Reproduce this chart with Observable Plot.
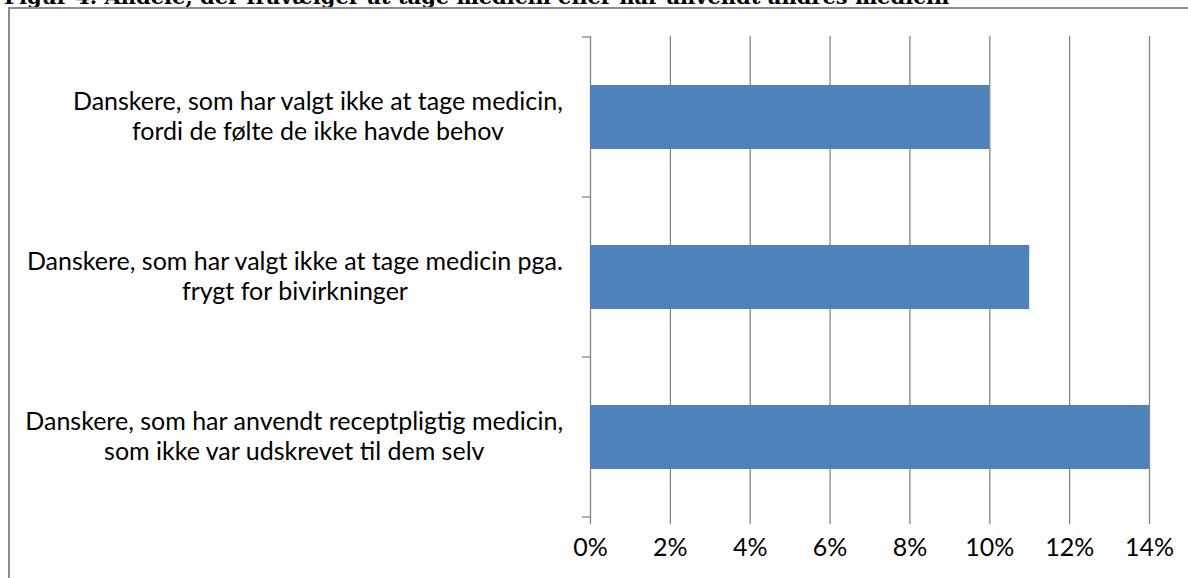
<!DOCTYPE html>
<html><head><meta charset="utf-8">
<script src="https://cdn.jsdelivr.net/npm/d3@7"></script>
<script src="https://cdn.jsdelivr.net/npm/@observablehq/plot@0.6"></script>
<style>
body{margin:0;background:#fff;overflow:hidden}
#wrap{position:relative;width:1188px;height:578px;overflow:hidden;background:#fff}
#title{position:absolute;left:4px;top:-14px;font:bold 21px "DejaVu Serif";line-height:21px;white-space:nowrap;color:#000}
#frame{position:absolute;left:8px;top:7px;width:1220px;height:620px;border-left:2px solid #8c8c8c;border-top:2px solid #8c8c8c}
#chart{position:absolute;left:0;top:0}
</style></head><body>
<div id="wrap">
  <div id="title">Figur 4. Andele, der fravælger at tage medicin eller har anvendt andres medicin</div>
  <div id="frame"></div>
  <div id="chart"></div>
</div>
<script>
// Data
const categories = ["behov", "bivirkninger", "andres"];
const labelLines = [
  ["Danskere, som har valgt ikke at tage medicin,", "fordi de følte de ikke havde behov"],
  ["Danskere, som har valgt ikke at tage medicin pga.", "frygt for bivirkninger"],
  ["Danskere, som har anvendt receptpligtig medicin,", "som ikke var udskrevet til dem selv"]
];
const values = [0.10, 0.11, 0.14];
const xTicks = [0, 0.02, 0.04, 0.06, 0.08, 0.10, 0.12, 0.14];

const FONT = "Lato";
const FS = 25;
const data = categories.map((c, i) => ({cat: c, value: values[i], label: labelLines[i].join("\n"), lines: labelLines[i]}));

const ctx = document.createElement("canvas").getContext("2d");
ctx.font = `${FS}px ${FONT}`;
const widthOf = lines => Math.max(...lines.map(l => ctx.measureText(l).width));

const gray = "#868686";

function boundaryTicks(index, scales, values, dims) {
  const y = scales.y;
  const bw = y.bandwidth ? y.bandwidth() : 0;
  const step = y.step ? y.step() : bw;
  const off = (step - bw) / 2;
  const ys = categories.map(c => y(c) - off);
  ys.push(y(categories[categories.length - 1]) + bw + off);
  const g = d3.create("svg:g");
  const x0 = scales.x(0);
  for (const yy of ys) {
    g.append("line").attr("x1", x0 - 8).attr("x2", x0).attr("y1", yy).attr("y2", yy)
      .attr("stroke", gray).attr("stroke-width", 1.3);
  }
  return g.node();
}

const labelMarks = data.map(d => Plot.text([d], {
  y: "cat", text: "label", frameAnchor: "left", textAnchor: "middle",
  dx: -(27 + widthOf(d.lines) / 2), dy: -2, lineHeight: 1.17, fontSize: FS, fill: "#000"
}));

const chart = Plot.plot({
  width: 1188, height: 578,
  marginLeft: 590, marginRight: 39, marginTop: 36, marginBottom: 61,
  style: {fontFamily: FONT, fontSize: FS + "px", color: "#000", background: "transparent", overflow: "visible"},
  x: {domain: [0, 0.14]},
  y: {domain: categories, paddingInner: 0.6, paddingOuter: 0.3},
  marks: [
    Plot.gridX(xTicks, {stroke: gray, strokeOpacity: 1, strokeWidth: 1.3}),
    Plot.barX(data, {x: "value", y: "cat", fill: "#4F81BD"}),
    Plot.ruleY([0], {frameAnchor: "bottom", x1: 0, x2: 0.14, stroke: gray, strokeWidth: 1.3}),
    Plot.axisX(xTicks, {tickSize: 7, tickPadding: 14, stroke: gray, strokeWidth: 1.3, fill: "#000",
      tickFormat: d => Math.round(d * 100) + "%", fontSize: FS, label: null}),
    Plot.axisY({ticks: [], label: null}),
    boundaryTicks,
    ...labelMarks
  ]
});
document.getElementById("chart").appendChild(chart);
</script>
</body></html>
